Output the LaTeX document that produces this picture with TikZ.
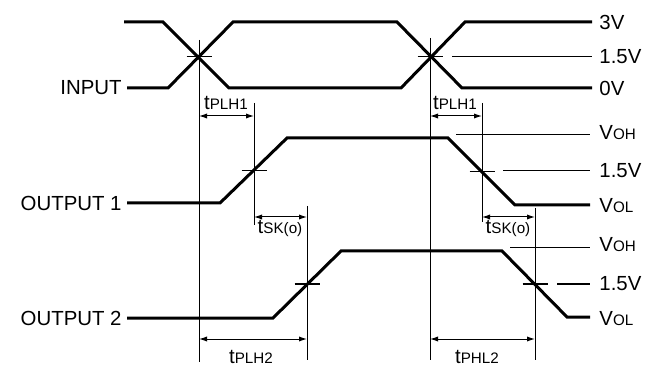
\documentclass[tikz,border=0pt]{standalone}
\usepackage{fontspec}
\setmainfont{Liberation Sans}
\usepackage{tikz}
\usetikzlibrary{arrows.meta, positioning}
\newcommand{\lo}[1]{{\fontsize{7.6}{8}\selectfont #1}}

\begin{document}
\begin{tikzpicture}[x=0.5pt, y=-0.5pt]
\tikzstyle{wave} = [line width=1.5pt, line join=miter]
\tikzstyle{guide} = [line width=0.5pt]
\tikzstyle{dim} = [line width=0.5pt, {Latex[length=4pt,width=2.6pt]}-{Latex[length=4pt,width=2.6pt]}]
\tikzstyle{lbl} = [font=\fontsize{10.2}{11}\selectfont, inner sep=0pt]

\useasboundingbox (0,0) rectangle (657,368);

% crossing points
\coordinate (inA) at (199,57);
\coordinate (inB) at (430,57);
\coordinate (oA) at (254,171);
\coordinate (oB) at (482,172);
\coordinate (pA) at (307,284);
\coordinate (pB) at (535,284);

% waveforms
\draw[wave] (124,22) -- (163,22) -- (229,88) -- (401,88) -- (465,22) -- (592,22);
\draw[wave] (127,88) -- (168,88) -- (233,22) -- (397,22) -- (462,88) -- (592,88);
\draw[wave] (127,203) -- (220,203) -- (287,138) -- (448,138) -- (515,205) -- (590,205);
\draw[wave] (127,318) -- (273,318) -- (341,251) -- (502,251) -- (567,317) -- (590,317);

% timing markers
\draw[guide] (inA |- 0,40) -- (inA |- 0,362);
\draw[guide] (inB |- 0,38) -- (inB |- 0,360);
\draw[guide] (oA |- 0,103) -- (oA |- 0,225);
\draw[guide] (oB |- 0,103) -- (oB |- 0,222);
\draw[guide] (pA |- 0,206) -- (pA |- 0,360);
\draw[guide] (pB |- 0,208) -- (pB |- 0,360);

% cross ticks
\foreach \c in {inA, inB, oA, oB, pA, pB}
  \draw[guide] ([xshift=-6.25pt]\c) -- ([xshift=6.25pt]\c);

% reference levels
\draw[guide] (452,57) -- (592,57);
\draw[guide] (456,135) -- (590,135);
\draw[guide] (503,171) -- (590,171);
\draw[guide] (510,248) -- (590,248);
\draw[guide] (557,284) -- (590,284);

% delays
\draw[dim] (inA |- 0,116) -- (oA |- 0,116);
\draw[dim] (inB |- 0,116) -- (oB |- 0,116);
\draw[dim] (oA |- 0,217) -- (pA |- 0,217);
\draw[dim] (oB |- 0,217) -- (pB |- 0,217);
\draw[dim] (inA |- 0,339) -- (pA |- 0,339);
\draw[dim] (inB |- 0,339) -- (pB |- 0,339);

% signal names
\node[lbl, anchor=east] (input) at (122,88) {INPUT};
\node[lbl, anchor=east] (out1) at (122,203) {OUTPUT 1};
\node[lbl, anchor=east] (out2) at (122,318) {OUTPUT 2};

% levels
\node[lbl, anchor=west] (v3) at (599,22) {3V};
\node[lbl, anchor=west] (vmid) at (599,57) {1.5V};
\node[lbl, anchor=west] (v0) at (599,88) {0V};
\node[lbl, anchor=west] (voh1) at (599,133) {V\lo{OH}};
\node[lbl, anchor=west] (vmid1) at (599,171) {1.5V};
\node[lbl, anchor=west] (vol1) at (599,206) {V\lo{OL}};
\node[lbl, anchor=west] (voh2) at (599,245) {V\lo{OH}};
\node[lbl, anchor=west] (vmid2) at (599,284) {1.5V};
\node[lbl, anchor=west] (vol2) at (599,319) {V\lo{OL}};

% delay names
\node[lbl] (plh1a) at (226,103) {t\lo{PLH1}};
\node[lbl] (plh1b) at (455,103) {t\lo{PLH1}};
\node[lbl] (skA) at (280,228) {t\lo{SK(o)}};
\node[lbl] (skB) at (508,228) {t\lo{SK(o)}};
\node[lbl] (plh2) at (251,357) {t\lo{PLH2}};
\node[lbl] (phl2) at (477,357) {t\lo{PHL2}};
\end{tikzpicture}
\end{document}
